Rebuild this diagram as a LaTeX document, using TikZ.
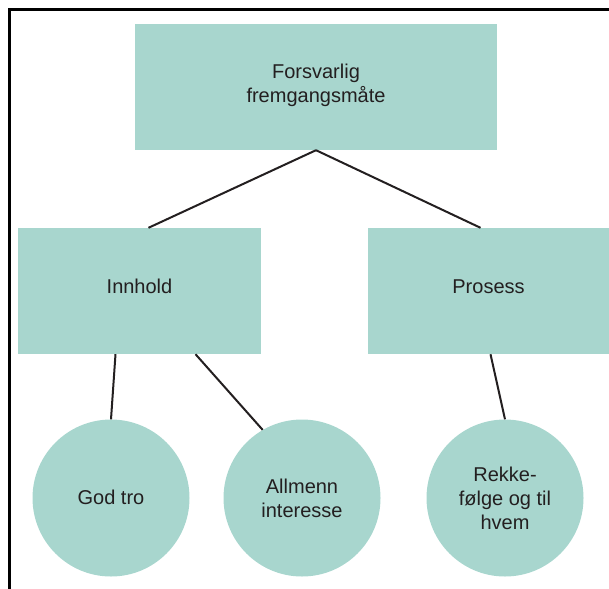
\documentclass[tikz,border=0pt]{standalone}
\usepackage{fontspec}
\setmainfont{Liberation Sans}
\definecolor{fillc}{HTML}{A8D6CE}
\definecolor{txt}{HTML}{231F20}
\begin{document}
\begin{tikzpicture}[x=1pt,y=-1pt,
  box/.style={fill=fillc,draw=none,text=txt,align=center,font=\fontsize{20}{24}\selectfont},
  circ/.style={circle,fill=fillc,draw=none,text=txt,align=center,minimum size=157pt,inner sep=0pt,font=\fontsize{20}{24}\selectfont},
  conn/.style={draw=txt,line width=2pt}]
\useasboundingbox (0,0) rectangle (609,588);
\draw[line width=3pt] (9.5,600) -- (9.5,10) -- (620,10);
\node[box,minimum width=362pt,minimum height=126pt,text depth=8pt] (top) at (316,87) {Forsvarlig\\fremgangsmåte};
\node[box,minimum width=243pt,minimum height=126pt,text depth=10pt] (inn) at (139.5,291) {Innhold};
\node[box,minimum width=241pt,minimum height=126pt,text depth=9pt] (pro) at (488.5,291) {Prosess};
\node[circ] (god) at (111,498) {\raisebox{2pt}{God tro}};
\node[circ] (all) at (302,498) {Allmenn\\interesse};
\node[circ] (rek) at (505,498) {Rekke-\\følge og til\\hvem};
\coordinate (t1) at (top.south);
\draw[conn] (t1) -- ([xshift=9pt]inn.north);
\draw[conn] (t1) -- ([xshift=-8pt]pro.north);
\draw[conn] ([xshift=-24pt]inn.south) -- (god.north);
\draw[conn] ([xshift=56pt]inn.south) -- (all.120);
\draw[conn] ([xshift=2pt]pro.south) -- (rek.north);
\end{tikzpicture}
\end{document}
